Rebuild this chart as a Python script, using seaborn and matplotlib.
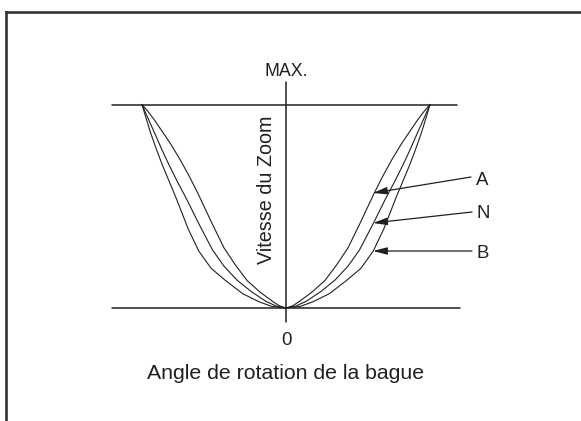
import numpy as np
import pandas as pd
import matplotlib
matplotlib.use("Agg")
import matplotlib.pyplot as plt
import seaborn as sns

# curve data (right half, x and speed both 0..1)
a_x = [0, 0.05, 0.10, 0.18, 0.27, 0.35, 0.43, 0.51, 0.606, 0.67, 0.736, 0.80, 0.86, 0.915, 0.96, 1.0]
a_y = [0, 0.012, 0.036, 0.078, 0.135, 0.21, 0.295, 0.41, 0.555, 0.645, 0.73, 0.805, 0.868, 0.925, 0.967, 1.0]
n_x = [0, 0.07, 0.14, 0.24, 0.34, 0.43, 0.51, 0.606, 0.69, 0.75, 0.81, 0.86, 0.90, 0.96, 1.0]
n_y = [0, 0.01, 0.033, 0.08, 0.137, 0.205, 0.285, 0.415, 0.535, 0.615, 0.70, 0.775, 0.84, 0.935, 1.0]
b_x = [0, 0.10, 0.185, 0.30, 0.42, 0.52, 0.606, 0.68, 0.76, 0.81, 0.86, 0.90, 0.94, 0.977, 1.0]
b_y = [0, 0.008, 0.03, 0.07, 0.135, 0.195, 0.28, 0.39, 0.535, 0.62, 0.705, 0.78, 0.86, 0.945, 1.0]

labels = ["A", "N", "B"]
x_label = "Angle de rotation de la bague"
y_label = "Vitesse du Zoom"

INK = "#231f20"

sns.set_style("white")
plt.rcParams["font.family"] = ["Liberation Sans", "DejaVu Sans"]

# pixel -> data helpers (axes fills the whole figure)
PX0, PY0, SX, SY = 286, 308, 144, 203.5
def px(x):
    return (x - PX0) / SX
def py(y):
    return (PY0 - y) / SY

fig = plt.figure(figsize=(5.81, 4.21), dpi=100)
ax = fig.add_axes([0, 0, 1, 1])
ax.set_xlim(px(0), px(581))
ax.set_ylim(py(421), py(0))
ax.axis("off")

# curves, mirrored on both sides of the axis
rows = []
for name, xs, ys in [("A", a_x, a_y), ("N", n_x, n_y), ("B", b_x, b_y)]:
    for side in [1, -1]:
        for x, y in zip(xs, ys):
            rows.append({"curve": name, "side": side, "x": side * x, "y": y})
df = pd.DataFrame(rows)
for (name, side), g in df.groupby(["curve", "side"]):
    sns.lineplot(data=g, x="x", y="y", ax=ax, color=INK, lw=0.8,
                 sort=False, estimator=None, legend=False)

# reference lines: MAX level, zero level, vertical axis
ax.plot([px(112), px(457)], [1, 1], color=INK, lw=1.1)
ax.plot([px(112), px(460)], [0, 0], color=INK, lw=1.1)
ax.plot([0, 0], [py(82), py(322)], color=INK, lw=1.1)

ax.text(0, py(75.7), "MAX.", ha="center", va="baseline", fontsize=12.8, color=INK)
ax.text(0, py(345), "0", ha="center", va="baseline", fontsize=13.4, color=INK)
ax.text(0, py(379), x_label, ha="center", va="baseline", fontsize=15.3, color=INK)
ax.text(px(267), py(190), y_label, rotation=90, ha="center", va="center",
        fontsize=14.2, color=INK)

# arrows to the curves
tips = [(373, 193), (373, 223), (373, 251)]
starts = [(471, 177), (472, 212), (472, 251)]
base = [185, 218, 258]
for lab, tip, st, bl in zip(labels, tips, starts, base):
    ax.annotate("", xy=(px(tip[0]), py(tip[1])), xytext=(px(st[0]), py(st[1])),
                arrowprops=dict(arrowstyle="-|>,head_length=0.85,head_width=0.22",
                                color=INK, lw=0.9, shrinkA=0, shrinkB=0),
                annotation_clip=False)
    ax.text(px(476), py(bl), lab, ha="left", va="baseline", fontsize=13.4, color=INK)

# frame border (top and left only visible)
fx = 6.2 / 581
fy = 1 - 11.5 / 421
ax.plot([fx, 1], [fy, fy], color="#333333", lw=1.9, transform=ax.transAxes,
        solid_capstyle="projecting")
ax.plot([fx, fx], [0, fy], color="#333333", lw=1.9, transform=ax.transAxes,
        solid_capstyle="projecting")

fig.savefig("out.png", dpi=100)
